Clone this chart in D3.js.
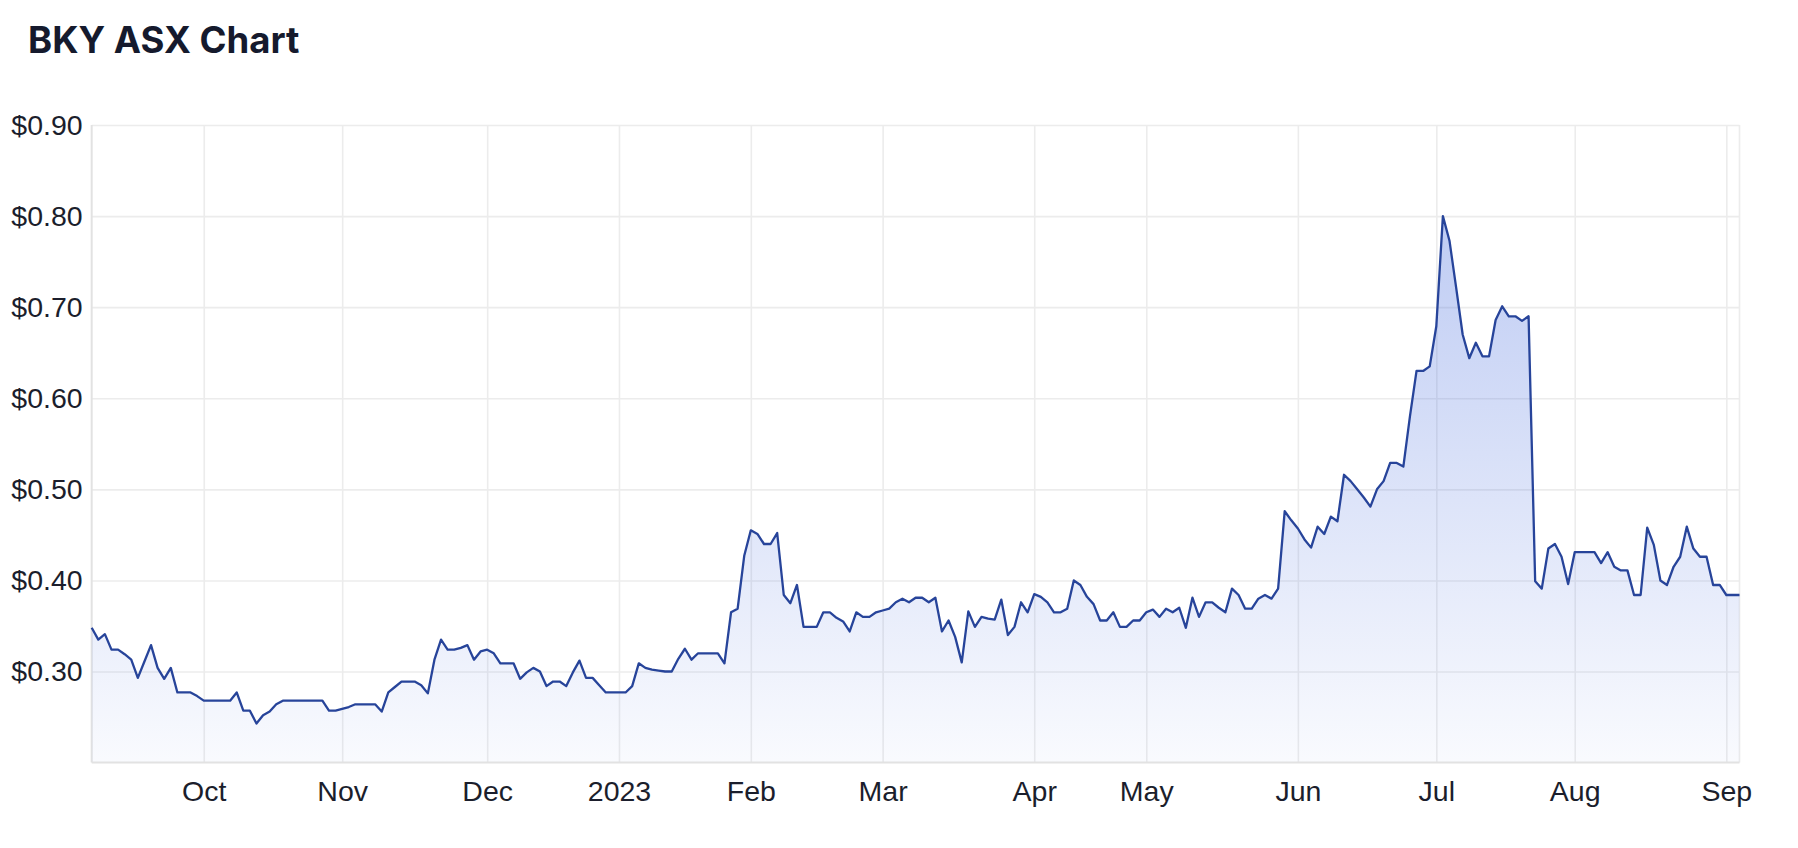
<!DOCTYPE html>
<html><head><meta charset="utf-8">
<script src="https://cdn.jsdelivr.net/npm/d3@7"></script>
<style>body{margin:0;background:#fff;} svg{display:block;}</style>
</head><body>
<svg id="chart" width="1798" height="848"></svg>
<script>
// Daily closing prices (one value per ASX trading day, Sep 2022 - Sep 2023)
const prices = [
0.348,0.335,0.341,0.324,0.324,0.319,0.313,0.293,0.311,0.329,
0.304,0.292,0.304,0.277,0.277,0.277,0.273,0.268,0.268,0.268,
0.268,0.268,0.277,0.257,0.257,0.243,0.252,0.256,0.264,0.268,
0.268,0.268,0.268,0.268,0.268,0.268,0.257,0.257,0.259,0.261,
0.264,0.264,0.264,0.264,0.256,0.277,0.283,0.289,0.289,0.289,
0.285,0.276,0.313,0.335,0.324,0.324,0.326,0.329,0.313,0.322,
0.324,0.320,0.309,0.309,0.309,0.292,0.299,0.304,0.300,0.284,
0.289,0.289,0.284,0.299,0.312,0.293,0.293,0.285,0.277,0.277,
0.277,0.277,0.284,0.309,0.304,0.302,0.301,0.300,0.300,0.314,
0.325,0.313,0.320,0.320,0.320,0.320,0.309,0.365,0.369,0.427,
0.455,0.451,0.440,0.440,0.452,0.384,0.375,0.395,0.349,0.349,
0.349,0.365,0.365,0.359,0.355,0.344,0.365,0.360,0.360,0.365,
0.367,0.369,0.376,0.380,0.376,0.381,0.381,0.376,0.381,0.344,
0.356,0.338,0.310,0.366,0.349,0.360,0.358,0.357,0.379,0.340,
0.349,0.376,0.365,0.385,0.382,0.376,0.365,0.365,0.369,0.400,
0.395,0.382,0.374,0.356,0.356,0.365,0.349,0.349,0.356,0.356,
0.365,0.368,0.360,0.369,0.365,0.370,0.348,0.381,0.360,0.376,
0.376,0.370,0.365,0.391,0.384,0.369,0.369,0.380,0.384,0.380,
0.391,0.476,0.466,0.457,0.445,0.436,0.459,0.451,0.470,0.465,
0.516,0.509,0.500,0.491,0.481,0.500,0.509,0.529,0.529,0.525,
0.580,0.630,0.630,0.635,0.679,0.800,0.773,0.722,0.670,0.644,
0.661,0.646,0.646,0.686,0.701,0.690,0.690,0.685,0.690,0.399,
0.391,0.435,0.440,0.426,0.396,0.431,0.431,0.431,0.431,0.419,
0.431,0.415,0.411,0.411,0.384,0.384,0.458,0.439,0.400,0.395,
0.415,0.426,0.459,0.435,0.426,0.426,0.395,0.395,0.384,0.384,
0.384
];
// Index of the first trading day of each month and its label
const monthTickIndex = [17,38,60,80,100,120,143,160,183,204,225,248];
const monthTickLabels = ["Oct","Nov","Dec","2023","Feb","Mar","Apr","May","Jun","Jul","Aug","Sep"];
const priceTicks = [0.3,0.4,0.5,0.6,0.7,0.8,0.9];
const priceDomain = [0.2,0.9];

const W = 1798, H = 848;
const m = {top:125, right:58.5, bottom:85.4, left:91.7};
const iw = W - m.left - m.right, ih = H - m.top - m.bottom;
const svg = d3.select("#chart");

const x = d3.scaleLinear().domain([0, prices.length - 1]).range([m.left, W - m.right]);
const y = d3.scaleLinear().domain(priceDomain).range([H - m.bottom, m.top]);

svg.append("text")
  .attr("x", 28).attr("y", 52.5)
  .attr("font-family", "Inter, 'Noto Sans', sans-serif")
  .attr("font-weight", 700).attr("font-size", 36.5)
  .attr("fill", "#151a2d")
  .text("BKY ASX Chart");

const defs = svg.append("defs");
const grad = defs.append("linearGradient").attr("id", "fillGrad")
  .attr("gradientUnits", "userSpaceOnUse")
  .attr("x1", 0).attr("x2", 0)
  .attr("y1", y(d3.max(prices))).attr("y2", y(priceDomain[0]));
grad.append("stop").attr("offset", 0).attr("stop-color", "rgb(60,100,220)").attr("stop-opacity", 0.33);
grad.append("stop").attr("offset", 1).attr("stop-color", "rgb(60,100,220)").attr("stop-opacity", 0.03);

// Gridlines + axes
const yAxis = svg.append("g").attr("transform", `translate(${m.left},0)`)
  .call(d3.axisLeft(y).tickValues(priceTicks).tickSize(-iw).tickPadding(9)
    .tickFormat(d => "$" + d.toFixed(2)));
yAxis.select(".domain").remove();
yAxis.selectAll("line").attr("stroke", "#ececec").attr("stroke-width", 1.6);
yAxis.selectAll("text").attr("font-family", "'Liberation Sans', Arial, sans-serif")
  .attr("font-size", 28.5).attr("fill", "#1b1e2c");

const xAxis = svg.append("g").attr("transform", `translate(0,${H - m.bottom})`)
  .call(d3.axisBottom(x).tickValues(monthTickIndex).tickSize(-ih).tickPadding(18)
    .tickFormat((d, i) => monthTickLabels[i]));
xAxis.select(".domain").remove();
xAxis.selectAll("line").attr("stroke", "#ececec").attr("stroke-width", 1.6);
xAxis.selectAll("text").attr("font-family", "'Liberation Sans', Arial, sans-serif")
  .attr("font-size", 28.5).attr("fill", "#1b1e2c");

// Plot frame: left and right edges
svg.append("line").attr("x1", m.left).attr("x2", m.left).attr("y1", m.top).attr("y2", H - m.bottom)
  .attr("stroke", "#e2e2e2").attr("stroke-width", 2);
svg.append("line").attr("x1", W - m.right).attr("x2", W - m.right).attr("y1", m.top).attr("y2", H - m.bottom)
  .attr("stroke", "#ececec").attr("stroke-width", 1.6);

const area = d3.area().x((d, i) => x(i)).y0(y(priceDomain[0])).y1(d => y(d));
const line = d3.line().x((d, i) => x(i)).y(d => y(d));

svg.append("path").datum(prices).attr("d", area).attr("fill", "url(#fillGrad)");

svg.append("line").attr("x1", m.left).attr("x2", W - m.right).attr("y1", H - m.bottom).attr("y2", H - m.bottom)
  .attr("stroke", "#e2e2e2").attr("stroke-width", 2);

svg.append("path").datum(prices).attr("d", line)
  .attr("fill", "none").attr("stroke", "#27449a").attr("stroke-width", 2.3)
  .attr("stroke-linejoin", "round");
</script>
</body></html>
